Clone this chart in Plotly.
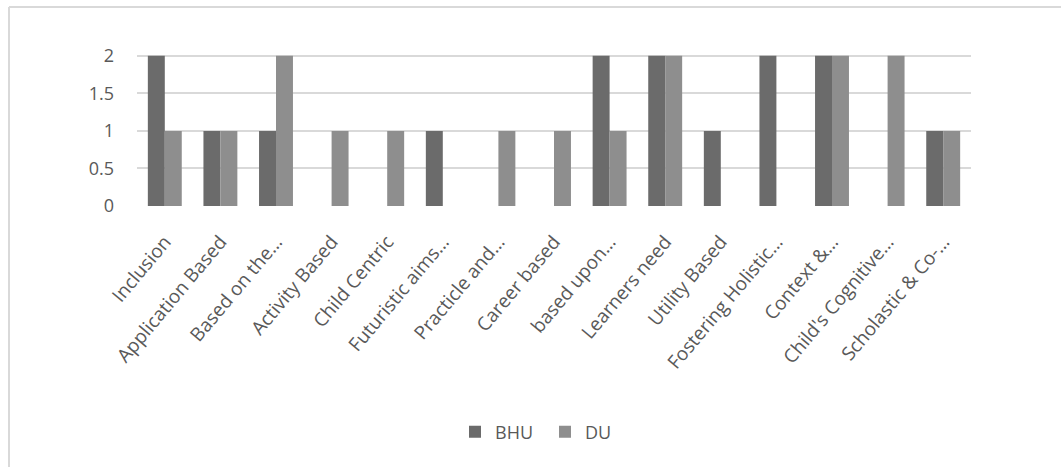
import plotly.graph_objects as go

categories = ["Inclusion", "Application Based", "Based on the…", "Activity Based",
              "Child Centric", "Futuristic aims…", "Practicle and…", "Career based",
              "based upon…", "Learners need", "Utility Based", "Fostering Holistic…",
              "Context &…", "Child's Cognitive…", "Scholastic & Co-…"]
bhu = [2, 1, 1, 0, 0, 1, 0, 0, 2, 2, 1, 2, 2, 0, 1]
du = [1, 1, 2, 1, 1, 0, 1, 1, 1, 2, 0, 0, 2, 2, 1]
y_ticks = [0, 0.5, 1, 1.5, 2]
y_tick_text = ["0", "0.5", "1", "1.5", "2"]

W, H = 1061, 467
ML, MR, MT, MB = 137, 90, 52, 261
pw, ph = W - ML - MR, H - MT - MB

def px2x(px):
    return (px - ML) / pw

def py2y(py):
    return (H - MB - py) / ph

font = "Open Sans"
txt = "#595959"

fig = go.Figure()
fig.add_trace(go.Bar(name="BHU", x=categories, y=bhu, marker=dict(color="#6b6b6b", line=dict(width=0))))
fig.add_trace(go.Bar(name="DU", x=categories, y=du, marker=dict(color="#8e8e8e", line=dict(width=0))))

fig.update_layout(
    width=W, height=H,
    margin=dict(l=ML, r=MR, t=MT, b=MB, pad=0),
    paper_bgcolor="white", plot_bgcolor="white",
    barmode="group", bargap=0.39, bargroupgap=0,
    font=dict(family=font, color=txt, size=18),
    showlegend=True,
    legend=dict(orientation="h", x=px2x(545), xanchor="center", y=py2y(432), yanchor="middle",
                font=dict(size=18, color=txt), traceorder="normal", itemwidth=30,
                entrywidth=45, entrywidthmode="pixels"),
    xaxis=dict(tickangle=-50, tickfont=dict(size=19, color=txt), showgrid=False,
               showline=False, ticks="", ticklabelstandoff=20),
    yaxis=dict(range=[0, 2.05], tickvals=y_ticks, ticktext=y_tick_text,
               tickfont=dict(size=18, color=txt), showgrid=True, gridcolor="#d9d9d9",
               gridwidth=2, zeroline=False, showline=False, ticks="", ticklabelstandoff=22),
    shapes=[
        dict(type="line", xref="paper", yref="paper", x0=px2x(9), x1=px2x(1061), y0=py2y(7), y1=py2y(7),
             line=dict(color="#d9d9d9", width=2)),
        dict(type="line", xref="paper", yref="paper", x0=px2x(9), x1=px2x(9), y0=py2y(7), y1=py2y(467),
             line=dict(color="#d9d9d9", width=2)),
    ],
)

fig.write_html("out.html")
